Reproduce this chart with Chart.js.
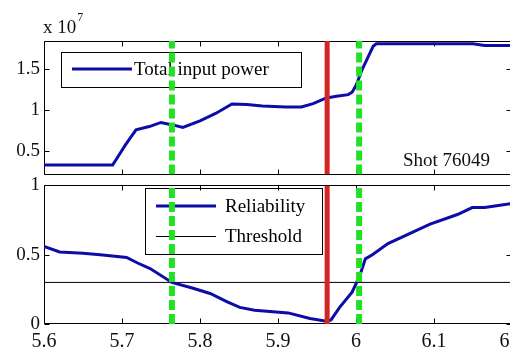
<!DOCTYPE html>
<html><head><meta charset="utf-8">
<script src="https://cdn.jsdelivr.net/npm/chart.js@4/dist/chart.umd.min.js"></script>
<style>
html,body{margin:0;padding:0;background:#fff;overflow:hidden;width:510px;height:355px;font-family:'Liberation Serif',serif;}
#wrap{position:relative;width:510px;height:355px;overflow:hidden;background:#fff;}
canvas{position:absolute;left:0;}
#c1{top:0px}
#c2{top:170px}
#pre{position:absolute;left:-1000px;top:0;font:18px 'Liberation Serif';}
</style></head><body>
<div id="pre">Total input power 0123456789</div>
<div id="wrap">
<canvas id="c1" width="540" height="190"></canvas>
<canvas id="c2" width="540" height="185"></canvas>
</div>
<script>
// ---- data (time in s) ----
const powerTime  = [5.600,5.688,5.696,5.704,5.712,5.718,5.735,5.750,5.765,5.778,5.800,5.820,5.841,5.860,5.880,5.910,5.930,5.945,5.962,5.975,5.990,5.995,6.000,6.008,6.016,6.022,6.026,6.050,6.100,6.150,6.165,6.200];
const powerValue = [0.33,0.33,0.45,0.57,0.68,0.76,0.80,0.85,0.82,0.79,0.87,0.96,1.075,1.07,1.05,1.04,1.04,1.08,1.15,1.17,1.19,1.22,1.30,1.50,1.66,1.78,1.81,1.81,1.81,1.81,1.79,1.79];
const relTime  = [5.600,5.620,5.650,5.672,5.706,5.720,5.736,5.764,5.790,5.813,5.835,5.851,5.870,5.913,5.941,5.962,5.968,5.979,5.995,6.005,6.012,6.021,6.041,6.095,6.130,6.149,6.165,6.200];
const relValue = [0.56,0.52,0.51,0.50,0.48,0.44,0.40,0.30,0.26,0.22,0.16,0.12,0.10,0.08,0.04,0.02,0.03,0.12,0.23,0.35,0.47,0.50,0.58,0.72,0.79,0.84,0.84,0.87];
const threshold = 0.3;
const disruptionTime = 5.963;          // red line
const alarmTimes = [5.764, 6.004];     // green dashed lines
const xLimits = [5.6, 6.2];
const xTicks = [5.6, 5.7, 5.8, 5.9, 6.0, 6.1, 6.2];
const topLimits = [0.213, 1.845];      // x 10^7
const topTicks = [0.5, 1, 1.5];
const botLimits = [0, 1];
const botTicks = [0, 0.5, 1];
const shotLabel = 'Shot 76049';

const FONT = "'Liberation Serif', 'Times New Roman', serif";
const BLUE = '#0c0ca8';
const RED = '#d42424';
const GREEN = '#22e022';

function vline(x, lim, color, width, dash){
  return {data:[{x:x,y:lim[0]},{x:x,y:lim[1]}], borderColor:color, borderWidth:width,
          borderDash:dash||[], pointRadius:0, tension:0, borderCapStyle:'butt'};
}
function fmt(v){ return String(Math.round(v*100)/100); }

const boxPlugin = {
  id:'mbox',
  beforeDatasetsDraw(chart){
    const {ctx, chartArea:a} = chart;
    const xs = chart.scales.x, ys = chart.scales.y;
    ctx.save();
    ctx.strokeStyle = '#000'; ctx.lineWidth = 1;
    const L = Math.round(a.left)+0.5, R = Math.round(a.right)-0.5, T = Math.round(a.top)+0.5, B = Math.round(a.bottom)-0.5;
    ctx.beginPath();
    ctx.moveTo(L,T); ctx.lineTo(R,T); ctx.lineTo(R,B); ctx.lineTo(L,B); ctx.closePath();
    const tl = 5;
    xTicks.forEach(v=>{
      const p = Math.round(xs.getPixelForValue(v))+0.5;
      ctx.moveTo(p,T); ctx.lineTo(p,T+tl);
      ctx.moveTo(p,B); ctx.lineTo(p,B-tl);
    });
    chart.options.plugins.mbox.yt.forEach(v=>{
      const p = Math.round(ys.getPixelForValue(v))+0.5;
      ctx.moveTo(L,p); ctx.lineTo(L+tl,p);
      ctx.moveTo(R,p); ctx.lineTo(R-tl,p);
    });
    ctx.stroke();

    // legend (drawn under the datasets, like the reference)
    const o = chart.options.plugins.mleg;
    ctx.strokeStyle = '#000'; ctx.lineWidth = 1;
    ctx.strokeRect(o.x+0.5, o.y+0.5, o.w, o.h);
    ctx.font = '19px ' + FONT;
    ctx.textBaseline = 'middle';
    ctx.fillStyle = '#000';
    let i = 0;
    chart.data.datasets.forEach(ds=>{
      if(!ds.label) return;
      const yy = Math.round(o.y + o.first + i*o.step) + (ds.borderWidth===1?0.5:0);
      ctx.strokeStyle = ds.borderColor; ctx.lineWidth = ds.borderWidth;
      ctx.beginPath(); ctx.moveTo(o.x+o.l0, yy); ctx.lineTo(o.x+o.l1, yy); ctx.stroke();
      ctx.fillText(ds.label, o.x+o.tx, yy+1);
      i++;
    });
    ctx.restore();
  }
};

const textPlugin = {
  id:'mtext',
  afterDraw(chart){
    const o = chart.options.plugins.mtext;
    if(!o.on) return;
    const {ctx} = chart;
    ctx.save();
    ctx.fillStyle = '#111';
    ctx.textBaseline = 'alphabetic';
    ctx.font = '19px ' + FONT;
    ctx.fillText('x 10', 43, 33);
    const w = ctx.measureText('x 10').width;
    ctx.font = '12px ' + FONT;
    ctx.fillText('7', 43 + w + 1, 21);
    ctx.font = '19px ' + FONT;
    ctx.textBaseline = 'middle';
    ctx.fillText(shotLabel, 403, 161);
    ctx.restore();
  }
};

function yAxis(lim, ticks){
  return {
    type:'linear', min:lim[0], max:lim[1],
    afterBuildTicks:s=>{ s.ticks = ticks.map(v=>({value:v})); },
    afterFit:s=>{ s.width = 44; },
    grid:{display:false, drawTicks:false}, border:{display:false},
    ticks:{color:'#111', padding:4, font:{family:FONT, size:19}, callback:v=>fmt(v)}
  };
}

function draw(){
// ---- top chart ----
new Chart(document.getElementById('c1'), {
  type:'line',
  data:{datasets:[
    vline(alarmTimes[0], topLimits, GREEN, 6, [10,4]),
    vline(alarmTimes[1], topLimits, GREEN, 6, [10,4]),
    vline(disruptionTime, topLimits, RED, 5),
    {label:'Total input power', data:powerTime.map((t,i)=>({x:t,y:powerValue[i]})),
     borderColor:BLUE, borderWidth:3, pointRadius:0, tension:0}
  ]},
  options:{
    responsive:false, animation:false, parsing:false,
    layout:{padding:{top:41, right:28, bottom:7, left:0}},
    scales:{
      x:{type:'linear', min:xLimits[0], max:xLimits[1], display:false},
      y:yAxis(topLimits, topTicks)
    },
    plugins:{legend:{display:false}, tooltip:{enabled:false},
      mbox:{yt:topTicks},
      mleg:{x:61, y:52, w:240, h:35, first:17, step:0, l0:11, l1:71, tx:73},
      mtext:{on:true}}
  },
  plugins:[boxPlugin, textPlugin]
});

// ---- bottom chart ----
new Chart(document.getElementById('c2'), {
  type:'line',
  data:{datasets:[
    vline(alarmTimes[0], botLimits, GREEN, 6, [10,4]),
    vline(alarmTimes[1], botLimits, GREEN, 6, [10,4]),
    vline(disruptionTime, botLimits, RED, 5),
    {label:'Reliability', data:relTime.map((t,i)=>({x:t,y:relValue[i]})),
     borderColor:BLUE, borderWidth:3, pointRadius:0, tension:0},
    {label:'Threshold', data:xLimits.map(t=>({x:t,y:threshold})),
     borderColor:'#000', borderWidth:1, pointRadius:0, tension:0}
  ]},
  options:{
    responsive:false, animation:false, parsing:false,
    layout:{padding:{top:13, right:28, bottom:0, left:0}},
    scales:{
      x:{type:'linear', min:xLimits[0], max:xLimits[1],
         afterBuildTicks:s=>{ s.ticks = xTicks.map(v=>({value:v})); },
         afterFit:s=>{ s.height = 31; },
         grid:{display:false, drawTicks:false}, border:{display:false},
         ticks:{color:'#111', padding:6, maxRotation:0, font:{family:FONT, size:20}, callback:v=>fmt(v)}},
      y:yAxis(botLimits, botTicks)
    },
    plugins:{legend:{display:false}, tooltip:{enabled:false},
      mbox:{yt:botTicks},
      mleg:{x:145, y:188-170, w:177, h:66, first:18, step:30, l0:11, l1:71, tx:80},
      mtext:{on:false}}
  },
  plugins:[boxPlugin, textPlugin]
});
}

let done = false;
function go(){ if(done) return; done = true; draw(); }
if (document.fonts && document.fonts.load) {
  document.fonts.load("18px 'Liberation Serif'").then(go, go);
  setTimeout(go, 300);
} else { go(); }
</script>
</body></html>
